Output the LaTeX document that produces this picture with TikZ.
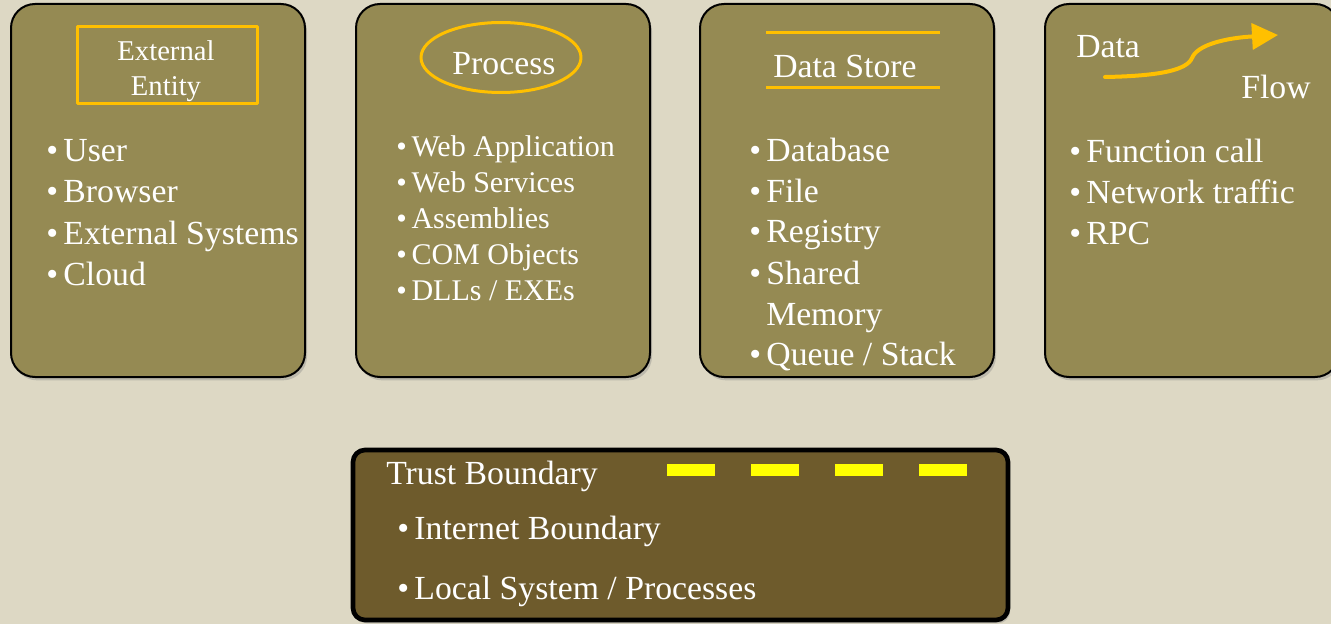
\documentclass[tikz,border=0pt]{standalone}
\usepackage{fontspec}
\setmainfont{Liberation Serif}
\usetikzlibrary{shadows,arrows.meta}
\definecolor{paper}{HTML}{DDD8C4}
\definecolor{cardfill}{HTML}{958A53}
\definecolor{trustfill}{HTML}{6E5B2C}
\definecolor{gold}{HTML}{FFC000}
\definecolor{dashyellow}{HTML}{FFFF00}
\newcommand{\bul}{\textbullet\hspace{0.16em}}
\begin{document}
\begin{tikzpicture}[x=0.75pt, y=-0.75pt, line join=round, line cap=round,
		card/.style={draw=black, line width=1.5pt, fill=cardfill, rounded corners=18pt,
			drop shadow={opacity=0.35, shadow xshift=1.5pt, shadow yshift=-2.5pt}},
		item/.style={anchor=base west, inner sep=0pt, text=white, font=\fontsize{25.3}{30}\selectfont},
		smallitem/.style={item, font=\fontsize{22.5}{27}\selectfont},
		head/.style={anchor=base, inner sep=0pt, text=white, font=\fontsize{25.3}{30}\selectfont},
		shape line/.style={draw=gold, line width=2.25pt}]
	\useasboundingbox (0,0) rectangle (1331,624);
	\fill[paper] (0,0) rectangle (1331,624);
	% the four cards
	\begin{scope}
		\clip (0,0) rectangle (1331,624);
		\foreach \x in {11,356,700,1045} \draw[card] (\x,4) rectangle ++(294,373);
	\end{scope}
	% external entity
	\draw[shape line, line cap=butt] (77,27) rectangle (257,104);
	\node[head, font=\fontsize{21.5}{26}\selectfont] (eetop) at (166,61) {External};
	\node[head, font=\fontsize{21.5}{26}\selectfont] (eebot) at (166,96) {Entity};
	\foreach \t [count=\i] in {User,Browser,External Systems,Cloud}
		\node[item] (ee\i) at (46,{162+41*(\i-1)}) {\bul\t};
	% process
	\draw[shape line] (501,57.5) ellipse [x radius=80, y radius=35];
	\node[head] (proc) at (504,75) {Process};
	\foreach \t [count=\i] in {Web Application,Web Services,Assemblies,COM Objects,DLLs / EXEs}
		\node[smallitem] (pr\i) at (396,{157+35.75*(\i-1)}) {\bul\t};
	% data store
	\draw[shape line, line cap=butt] (766,33)--(940,33) (766,88)--(940,88);
	\node[head, anchor=base west] (store) at (773,78) {Data Store};
	\foreach \y/\t [count=\i] in {162/Database,203/File,243/Registry,284/Shared,365/{Queue / Stack}}
		\node[item] (ds\i) at (749,\y) {\bul\t};
	\node[item] (ds4b) at (766,325) {Memory};
	% data flow
	\node[head, anchor=base west] (dfa) at (1076,58) {Data};
	\node[head, anchor=base west] (dfb) at (1241,99) {Flow};
	\draw[draw=gold, line width=3pt, -{Triangle[length=19.5pt, width=19.5pt]}]
		(1105,77) .. controls (1160,76) and (1187,70) .. (1192,58)
		.. controls (1197,45) and (1225,38) .. (1278,35);
	\foreach \t [count=\i] in {Function call,Network traffic,RPC}
		\node[item] (df\i) at (1069,{163+40.5*(\i-1)}) {\bul\t};
	% trust boundary
	\draw[line width=3.5pt, fill=trustfill, rounded corners=9pt,
		drop shadow={opacity=0.35, shadow xshift=1.5pt, shadow yshift=-2.5pt}] (353,450) rectangle (1008,620);
	\node[head, anchor=base west] (tb) at (386,484) {Trust Boundary};
	\foreach \x in {667,751,835,919} \fill[dashyellow] (\x,464) rectangle ++(48,12);
	\node[item] (tb1) at (397,539) {\bul Internet Boundary};
	\node[item] (tb2) at (397,599) {\bul Local System / Processes};
\end{tikzpicture}
\end{document}
